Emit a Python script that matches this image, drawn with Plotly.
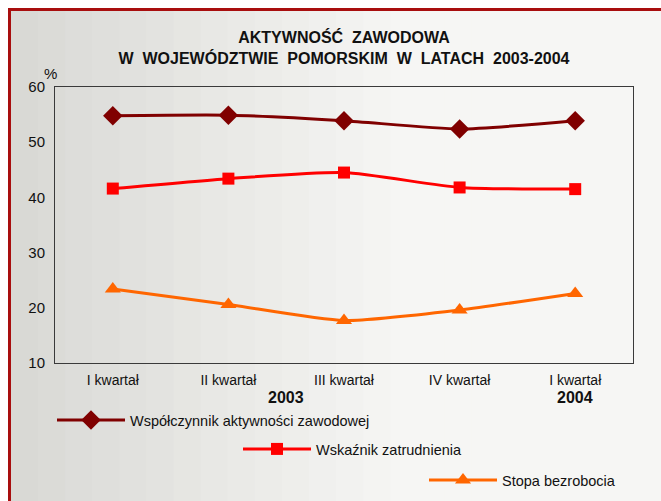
import plotly.graph_objects as go

tick_labels = ["I kwartał", "II kwartał", "III kwartał", "IV kwartał", "I kwartał"]
aktywnosc = [54.8, 54.9, 53.9, 52.4, 53.9]
zatrudnienie = [41.6, 43.4, 44.5, 41.8, 41.5]
bezrobocie = [23.4, 20.6, 17.7, 19.6, 22.6]
series_names = ["Współczynnik aktywności zawodowej", "Wskaźnik zatrudnienia", "Stopa bezrobocia"]
year_labels = ["2003", "2004"]
year_positions = [1.5, 4]

W, H = 661, 501
L, R, T, B = 55, 28, 87, 138
pw, ph = W - L - R, H - T - B

def px_x(x):
    return (x - L) / pw

def px_y(y):
    return (H - B - y) / ph

FONT = "Liberation Sans, Arial, sans-serif"

fig = go.Figure()
xs = list(range(len(tick_labels)))
fig.add_trace(go.Scatter(x=xs, y=aktywnosc, name=series_names[0], mode="lines+markers",
                         line=dict(color="#800000", width=3, shape="spline", smoothing=0.6),
                         marker=dict(symbol="diamond", size=15, color="#800000"), legend="legend"))
fig.add_trace(go.Scatter(x=xs, y=zatrudnienie, name=series_names[1], mode="lines+markers",
                         line=dict(color="#FF0000", width=3, shape="spline", smoothing=0.6),
                         marker=dict(symbol="square", size=12, color="#FF0000"), legend="legend2"))
fig.add_trace(go.Scatter(x=xs, y=bezrobocie, name=series_names[2], mode="lines+markers",
                         line=dict(color="#FF6600", width=3, shape="spline", smoothing=0.6),
                         marker=dict(symbol="triangle-up", size=14, color="#FF6600"), legend="legend3"))

# background gradient strips (styling)
shapes = []
n = 24
x_start, x_end = 11, 661
c0 = (216, 216, 212)
c1 = (246, 246, 244)
for i in range(n):
    xa = x_start + (x_end - x_start) * i / n
    xb = x_start + (x_end - x_start) * (i + 1) / n + 1
    t = min(1.0, (i + 0.5) / (n * 0.6))
    col = tuple(int(round(c0[k] + (c1[k] - c0[k]) * t)) for k in range(3))
    shapes.append(dict(type="rect", xref="paper", yref="paper", layer="below",
                       x0=px_x(xa), x1=px_x(xb), y0=px_y(520), y1=px_y(11),
                       fillcolor="rgb(%d,%d,%d)" % col, line=dict(width=0)))
# red frame
shapes.append(dict(type="rect", xref="paper", yref="paper", layer="below",
                   x0=px_x(9.5), x1=px_x(700), y0=px_y(540), y1=px_y(9.5),
                   fillcolor="rgba(0,0,0,0)", line=dict(color="#A80E0E", width=3)))

annotations = [
    dict(text="%", xref="paper", yref="paper", x=px_x(50), y=px_y(73), showarrow=False,
         xanchor="center", yanchor="middle", font=dict(family=FONT, size=15, color="#111")),
]
for lbl, pos in zip(year_labels, year_positions):
    annotations.append(dict(text="<b>%s</b>" % lbl, xref="x", yref="paper", x=pos, y=px_y(397),
                            xanchor="center", yanchor="middle", showarrow=False,
                            font=dict(family=FONT, size=16, color="#111")))

def leg(x, y):
    return dict(x=x / W, y=1 - y / H, xref="container", yref="container",
                xanchor="left", yanchor="middle", bgcolor="rgba(0,0,0,0)",
                borderwidth=0, font=dict(family=FONT, size=14.5, color="#111"), itemwidth=68,
                orientation="v")

fig.update_layout(
    width=W, height=H,
    margin=dict(l=L, r=R, t=T, b=B, autoexpand=False),
    paper_bgcolor="white",
    plot_bgcolor="rgba(0,0,0,0)",
    title=dict(text="<b>AKTYWNOŚĆ\u00a0 ZAWODOWA<br>W\u00a0 WOJEWÓDZTWIE\u00a0 POMORSKIM\u00a0 W\u00a0 LATACH\u00a0 2003-2004</b>",
               x=0.5, xref="paper", xanchor="center", y=1 - 43 / H, yanchor="middle",
               font=dict(family=FONT, size=16, color="#111")),
    xaxis=dict(range=[-0.5, 4.5], tickmode="array", tickvals=xs, ticktext=tick_labels,
               showgrid=False, zeroline=False, showline=True, mirror=True, linecolor="#3a3a3a",
               linewidth=1, ticks="", ticklabelstandoff=4,
               tickfont=dict(family=FONT, size=14, color="#111")),
    yaxis=dict(range=[10, 60], dtick=10, showgrid=False, zeroline=False, showline=True,
               mirror=True, linecolor="#3a3a3a", linewidth=1, ticks="",
               ticklabelstandoff=6, tickfont=dict(family=FONT, size=15, color="#111")),
    shapes=shapes,
    annotations=annotations,
    legend=leg(52, 420),
    legend2=leg(238, 449),
    legend3=leg(424, 480),
    showlegend=True,
)

fig.write_html("out.html", config={"displayModeBar": False},
               post_script="document.body.style.margin='0';document.body.style.padding='0';")
